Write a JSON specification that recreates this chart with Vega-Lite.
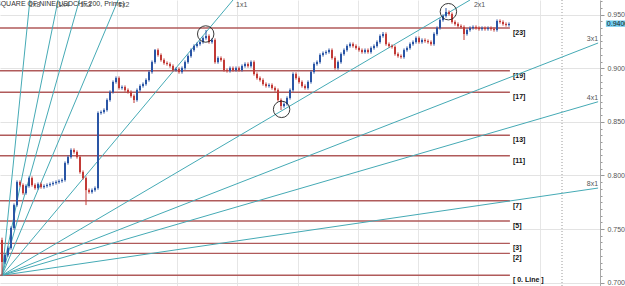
{
"$schema": "https://vega.github.io/schema/vega-lite/v6.json",
"width": 600, "height": 286,
"autosize": {"type": "none"},
"padding": {"left": 0, "top": 0, "right": 25, "bottom": 0},
"background": "white",
"config": {"view": {"stroke": null}, "font": "Liberation Sans"},
"datasets": {
"bars": [
{"n":0,"o":0.7398,"h":0.742,"l":0.7062,"c":0.7193},
{"n":1,"o":0.7193,"h":0.7273,"l":0.7178,"c":0.7258},
{"n":2,"o":0.7258,"h":0.7338,"l":0.7243,"c":0.7323},
{"n":3,"o":0.7323,"h":0.7525,"l":0.7308,"c":0.751},
{"n":4,"o":0.751,"h":0.7739,"l":0.7495,"c":0.7724},
{"n":5,"o":0.7724,"h":0.7954,"l":0.7709,"c":0.7939},
{"n":6,"o":0.7939,"h":0.7954,"l":0.7896,"c":0.7911},
{"n":7,"o":0.7911,"h":0.7926,"l":0.7821,"c":0.7836},
{"n":8,"o":0.7836,"h":0.7917,"l":0.7821,"c":0.7902},
{"n":9,"o":0.7902,"h":0.7991,"l":0.7887,"c":0.7976},
{"n":10,"o":0.7976,"h":0.7991,"l":0.7896,"c":0.7911},
{"n":11,"o":0.7911,"h":0.7926,"l":0.7868,"c":0.7883},
{"n":12,"o":0.7883,"h":0.7935,"l":0.7868,"c":0.792},
{"n":13,"o":0.792,"h":0.7935,"l":0.7877,"c":0.7892},
{"n":14,"o":0.7892,"h":0.7917,"l":0.7877,"c":0.7902},
{"n":15,"o":0.7902,"h":0.7926,"l":0.7887,"c":0.7911},
{"n":16,"o":0.7911,"h":0.7935,"l":0.7896,"c":0.792},
{"n":17,"o":0.792,"h":0.7945,"l":0.7905,"c":0.793},
{"n":18,"o":0.793,"h":0.7954,"l":0.7915,"c":0.7939},
{"n":19,"o":0.7939,"h":0.7963,"l":0.7924,"c":0.7948},
{"n":20,"o":0.7948,"h":0.7973,"l":0.7933,"c":0.7958},
{"n":21,"o":0.7958,"h":0.8131,"l":0.7943,"c":0.8116},
{"n":22,"o":0.8116,"h":0.8187,"l":0.8101,"c":0.8172},
{"n":23,"o":0.8172,"h":0.8253,"l":0.8157,"c":0.8238},
{"n":24,"o":0.8238,"h":0.8253,"l":0.8204,"c":0.8219},
{"n":25,"o":0.8219,"h":0.8234,"l":0.8157,"c":0.8172},
{"n":26,"o":0.8172,"h":0.8187,"l":0.8017,"c":0.8032},
{"n":27,"o":0.8032,"h":0.8047,"l":0.7961,"c":0.7976},
{"n":28,"o":0.7976,"h":0.7991,"l":0.7724,"c":0.7864},
{"n":29,"o":0.7864,"h":0.7879,"l":0.7831,"c":0.7846},
{"n":30,"o":0.7846,"h":0.7879,"l":0.7831,"c":0.7864},
{"n":31,"o":0.7864,"h":0.7898,"l":0.7849,"c":0.7883},
{"n":32,"o":0.7883,"h":0.8598,"l":0.7868,"c":0.8583},
{"n":33,"o":0.8583,"h":0.8607,"l":0.8568,"c":0.8592},
{"n":34,"o":0.8592,"h":0.8626,"l":0.8577,"c":0.8611},
{"n":35,"o":0.8611,"h":0.8719,"l":0.8596,"c":0.8704},
{"n":36,"o":0.8704,"h":0.8794,"l":0.8689,"c":0.8779},
{"n":37,"o":0.8779,"h":0.8887,"l":0.8764,"c":0.8872},
{"n":38,"o":0.8872,"h":0.8924,"l":0.8857,"c":0.8909},
{"n":39,"o":0.8909,"h":0.8924,"l":0.8801,"c":0.8816},
{"n":40,"o":0.8816,"h":0.884,"l":0.8801,"c":0.8825},
{"n":41,"o":0.8825,"h":0.884,"l":0.8782,"c":0.8797},
{"n":42,"o":0.8797,"h":0.8812,"l":0.8764,"c":0.8779},
{"n":43,"o":0.8779,"h":0.8794,"l":0.8726,"c":0.8741},
{"n":44,"o":0.8741,"h":0.8756,"l":0.8676,"c":0.8704},
{"n":45,"o":0.8704,"h":0.8812,"l":0.8689,"c":0.8797},
{"n":46,"o":0.8797,"h":0.885,"l":0.8782,"c":0.8835},
{"n":47,"o":0.8835,"h":0.8868,"l":0.882,"c":0.8853},
{"n":48,"o":0.8853,"h":0.8906,"l":0.8838,"c":0.8891},
{"n":49,"o":0.8891,"h":0.898,"l":0.8876,"c":0.8965},
{"n":50,"o":0.8965,"h":0.9073,"l":0.895,"c":0.9058},
{"n":51,"o":0.9058,"h":0.918,"l":0.9043,"c":0.917},
{"n":52,"o":0.917,"h":0.9185,"l":0.9109,"c":0.9124},
{"n":53,"o":0.9124,"h":0.9139,"l":0.9062,"c":0.9077},
{"n":54,"o":0.9077,"h":0.9092,"l":0.9034,"c":0.9049},
{"n":55,"o":0.9049,"h":0.9064,"l":0.9025,"c":0.904},
{"n":56,"o":0.904,"h":0.9055,"l":0.9006,"c":0.9021},
{"n":57,"o":0.9021,"h":0.9036,"l":0.8969,"c":0.8984},
{"n":58,"o":0.8984,"h":0.9008,"l":0.8969,"c":0.8993},
{"n":59,"o":0.8993,"h":0.9008,"l":0.895,"c":0.8965},
{"n":60,"o":0.8965,"h":0.9017,"l":0.895,"c":0.9002},
{"n":61,"o":0.9002,"h":0.9073,"l":0.8987,"c":0.9058},
{"n":62,"o":0.9058,"h":0.9129,"l":0.9043,"c":0.9114},
{"n":63,"o":0.9114,"h":0.9185,"l":0.9099,"c":0.917},
{"n":64,"o":0.917,"h":0.9223,"l":0.9155,"c":0.9208},
{"n":65,"o":0.9208,"h":0.9241,"l":0.9193,"c":0.9226},
{"n":66,"o":0.9226,"h":0.926,"l":0.9211,"c":0.9245},
{"n":67,"o":0.9245,"h":0.9297,"l":0.923,"c":0.9282},
{"n":68,"o":0.9282,"h":0.9357,"l":0.9267,"c":0.9301},
{"n":69,"o":0.9301,"h":0.9316,"l":0.923,"c":0.9245},
{"n":70,"o":0.9245,"h":0.9279,"l":0.923,"c":0.9264},
{"n":71,"o":0.9264,"h":0.9279,"l":0.9043,"c":0.9058},
{"n":72,"o":0.9058,"h":0.9111,"l":0.9043,"c":0.9096},
{"n":73,"o":0.9096,"h":0.9111,"l":0.9062,"c":0.9077},
{"n":74,"o":0.9077,"h":0.9092,"l":0.8969,"c":0.8984},
{"n":75,"o":0.8984,"h":0.8999,"l":0.896,"c":0.8975},
{"n":76,"o":0.8975,"h":0.9017,"l":0.896,"c":0.9002},
{"n":77,"o":0.9002,"h":0.9017,"l":0.8969,"c":0.8984},
{"n":78,"o":0.8984,"h":0.9017,"l":0.8969,"c":0.9002},
{"n":79,"o":0.9002,"h":0.9017,"l":0.8969,"c":0.8984},
{"n":80,"o":0.8984,"h":0.9036,"l":0.8969,"c":0.9021},
{"n":81,"o":0.9021,"h":0.9055,"l":0.9006,"c":0.904},
{"n":82,"o":0.904,"h":0.9055,"l":0.9006,"c":0.9021},
{"n":83,"o":0.9021,"h":0.9073,"l":0.9006,"c":0.9058},
{"n":84,"o":0.9058,"h":0.9073,"l":0.8932,"c":0.8947},
{"n":85,"o":0.8947,"h":0.8962,"l":0.8894,"c":0.8909},
{"n":86,"o":0.8909,"h":0.8924,"l":0.8876,"c":0.8891},
{"n":87,"o":0.8891,"h":0.8906,"l":0.8838,"c":0.8853},
{"n":88,"o":0.8853,"h":0.8868,"l":0.882,"c":0.8835},
{"n":89,"o":0.8835,"h":0.8859,"l":0.882,"c":0.8844},
{"n":90,"o":0.8844,"h":0.8859,"l":0.8801,"c":0.8816},
{"n":91,"o":0.8816,"h":0.8831,"l":0.8782,"c":0.8797},
{"n":92,"o":0.8797,"h":0.8812,"l":0.8689,"c":0.8704},
{"n":93,"o":0.8704,"h":0.8719,"l":0.8611,"c":0.8648},
{"n":94,"o":0.8648,"h":0.8682,"l":0.8633,"c":0.8667},
{"n":95,"o":0.8667,"h":0.8738,"l":0.8652,"c":0.8723},
{"n":96,"o":0.8723,"h":0.8812,"l":0.8708,"c":0.8797},
{"n":97,"o":0.8797,"h":0.8962,"l":0.8782,"c":0.8947},
{"n":98,"o":0.8947,"h":0.8962,"l":0.8894,"c":0.8909},
{"n":99,"o":0.8909,"h":0.8924,"l":0.8857,"c":0.8872},
{"n":100,"o":0.8872,"h":0.8887,"l":0.882,"c":0.8835},
{"n":101,"o":0.8835,"h":0.885,"l":0.8801,"c":0.8816},
{"n":102,"o":0.8816,"h":0.8887,"l":0.8801,"c":0.8872},
{"n":103,"o":0.8872,"h":0.898,"l":0.8857,"c":0.8965},
{"n":104,"o":0.8965,"h":0.9055,"l":0.895,"c":0.904},
{"n":105,"o":0.904,"h":0.9073,"l":0.9025,"c":0.9058},
{"n":106,"o":0.9058,"h":0.9139,"l":0.9043,"c":0.9124},
{"n":107,"o":0.9124,"h":0.9157,"l":0.9109,"c":0.9142},
{"n":108,"o":0.9142,"h":0.9167,"l":0.9127,"c":0.9152},
{"n":109,"o":0.9152,"h":0.9185,"l":0.9137,"c":0.917},
{"n":110,"o":0.917,"h":0.9185,"l":0.9081,"c":0.9096},
{"n":111,"o":0.9096,"h":0.9111,"l":0.8987,"c":0.9002},
{"n":112,"o":0.9002,"h":0.9073,"l":0.8987,"c":0.9058},
{"n":113,"o":0.9058,"h":0.9148,"l":0.9043,"c":0.9133},
{"n":114,"o":0.9133,"h":0.9185,"l":0.9118,"c":0.917},
{"n":115,"o":0.917,"h":0.9223,"l":0.9155,"c":0.9208},
{"n":116,"o":0.9208,"h":0.9241,"l":0.9193,"c":0.9226},
{"n":117,"o":0.9226,"h":0.9241,"l":0.9193,"c":0.9208},
{"n":118,"o":0.9208,"h":0.9223,"l":0.9174,"c":0.9189},
{"n":119,"o":0.9189,"h":0.9204,"l":0.9155,"c":0.917},
{"n":120,"o":0.917,"h":0.9185,"l":0.9137,"c":0.9152},
{"n":121,"o":0.9152,"h":0.9185,"l":0.9137,"c":0.917},
{"n":122,"o":0.917,"h":0.9185,"l":0.9137,"c":0.9152},
{"n":123,"o":0.9152,"h":0.9204,"l":0.9137,"c":0.9189},
{"n":124,"o":0.9189,"h":0.9223,"l":0.9174,"c":0.9208},
{"n":125,"o":0.9208,"h":0.926,"l":0.9193,"c":0.9245},
{"n":126,"o":0.9245,"h":0.9316,"l":0.923,"c":0.9301},
{"n":127,"o":0.9301,"h":0.9338,"l":0.9286,"c":0.932},
{"n":128,"o":0.932,"h":0.9335,"l":0.9211,"c":0.9226},
{"n":129,"o":0.9226,"h":0.9241,"l":0.9193,"c":0.9208},
{"n":130,"o":0.9208,"h":0.9223,"l":0.9184,"c":0.9199},
{"n":131,"o":0.9199,"h":0.9214,"l":0.9118,"c":0.9133},
{"n":132,"o":0.9133,"h":0.9148,"l":0.9099,"c":0.9114},
{"n":133,"o":0.9114,"h":0.9129,"l":0.909,"c":0.9105},
{"n":134,"o":0.9105,"h":0.9185,"l":0.909,"c":0.917},
{"n":135,"o":0.917,"h":0.9204,"l":0.9155,"c":0.9189},
{"n":136,"o":0.9189,"h":0.9241,"l":0.9174,"c":0.9226},
{"n":137,"o":0.9226,"h":0.926,"l":0.9211,"c":0.9245},
{"n":138,"o":0.9245,"h":0.9297,"l":0.923,"c":0.9282},
{"n":139,"o":0.9282,"h":0.9297,"l":0.923,"c":0.9245},
{"n":140,"o":0.9245,"h":0.9279,"l":0.923,"c":0.9264},
{"n":141,"o":0.9264,"h":0.9279,"l":0.9239,"c":0.9254},
{"n":142,"o":0.9254,"h":0.9269,"l":0.923,"c":0.9245},
{"n":143,"o":0.9245,"h":0.926,"l":0.9211,"c":0.9226},
{"n":144,"o":0.9226,"h":0.9335,"l":0.9211,"c":0.932},
{"n":145,"o":0.932,"h":0.9391,"l":0.9305,"c":0.9376},
{"n":146,"o":0.9376,"h":0.9465,"l":0.9361,"c":0.945},
{"n":147,"o":0.945,"h":0.9503,"l":0.9435,"c":0.9488},
{"n":148,"o":0.9488,"h":0.9562,"l":0.9473,"c":0.9525},
{"n":149,"o":0.9525,"h":0.954,"l":0.9491,"c":0.9506},
{"n":150,"o":0.9506,"h":0.9521,"l":0.9417,"c":0.9432},
{"n":151,"o":0.9432,"h":0.9447,"l":0.9398,"c":0.9413},
{"n":152,"o":0.9413,"h":0.9428,"l":0.9379,"c":0.9394},
{"n":153,"o":0.9394,"h":0.9409,"l":0.937,"c":0.9385},
{"n":154,"o":0.9385,"h":0.94,"l":0.9264,"c":0.932},
{"n":155,"o":0.932,"h":0.9372,"l":0.9305,"c":0.9357},
{"n":156,"o":0.9357,"h":0.9391,"l":0.9342,"c":0.9376},
{"n":157,"o":0.9376,"h":0.94,"l":0.9361,"c":0.9385},
{"n":158,"o":0.9385,"h":0.94,"l":0.9361,"c":0.9376},
{"n":159,"o":0.9376,"h":0.9391,"l":0.9351,"c":0.9366},
{"n":160,"o":0.9366,"h":0.9391,"l":0.9351,"c":0.9376},
{"n":161,"o":0.9376,"h":0.9391,"l":0.9351,"c":0.9366},
{"n":162,"o":0.9366,"h":0.9391,"l":0.9351,"c":0.9376},
{"n":163,"o":0.9376,"h":0.9391,"l":0.9351,"c":0.9366},
{"n":164,"o":0.9366,"h":0.9381,"l":0.9342,"c":0.9357},
{"n":165,"o":0.9357,"h":0.9456,"l":0.9342,"c":0.9441},
{"n":166,"o":0.9441,"h":0.9456,"l":0.9417,"c":0.9432},
{"n":167,"o":0.9432,"h":0.9447,"l":0.9398,"c":0.9413},
{"n":168,"o":0.9413,"h":0.9428,"l":0.9389,"c":0.9404},
{"n":169,"o":0.9404,"h":0.9428,"l":0.9389,"c":0.9413}
],
"levels": [
{"v":0.9376,"label":"[23]"},
{"v":0.8977,"label":"[19]"},
{"v":0.8776,"label":"[17]"},
{"v":0.8375,"label":"[13]"},
{"v":0.8184,"label":"[11]"},
{"v":0.7765,"label":"[7]"},
{"v":0.7575,"label":"[5]"},
{"v":0.7367,"label":"[3]"},
{"v":0.7274,"label":"[2]"},
{"v":0.7069,"label":"[ 0. Line ]"}
],
"fans": [
{"fan":"1x8","n":0,"v":0.7069},{"fan":"1x8","n":9.3,"v":0.9637},
{"fan":"1x4","n":0,"v":0.7069},{"fan":"1x4","n":18.7,"v":0.9637},
{"fan":"1x3","n":0,"v":0.7069},{"fan":"1x3","n":25.8,"v":0.9637},
{"fan":"1x2","n":0,"v":0.7069},{"fan":"1x2","n":38.7,"v":0.9637},
{"fan":"1x1","n":0,"v":0.7069},{"fan":"1x1","n":77,"v":0.9637},
{"fan":"2x1","n":0,"v":0.7069},{"fan":"2x1","n":156,"v":0.9637},
{"fan":"3x1","n":0,"v":0.7069},{"fan":"3x1","n":198.7,"v":0.9236},
{"fan":"4x1","n":0,"v":0.7069},{"fan":"4x1","n":198.7,"v":0.8688},
{"fan":"8x1","n":0,"v":0.7069},{"fan":"8x1","n":198.7,"v":0.7883}
],
"fanTop": [
{"t":"1x8","n":9,"v":0.9595},
{"t":"1x4","n":18.7,"v":0.9595},
{"t":"1x3","n":26,"v":0.9595},
{"t":"1x2","n":38.7,"v":0.9595},
{"t":"1x1","n":78,"v":0.9595},
{"t":"2x1","n":157.3,"v":0.9595}
],
"fanRight": [
{"t":"3x1","n":198.7,"v":0.9236},
{"t":"4x1","n":198.7,"v":0.8688},
{"t":"8x1","n":198.7,"v":0.7883}
],
"circles": [
{"n":67.9,"v":0.932},
{"n":93.2,"v":0.8617},
{"n":148.8,"v":0.9528}
],
"title": [{"t":"SQUARE OF NINE(USDCHF,200, Prime)","n":-2,"v":0.96}],
"cur": [{"t":"0.9400","v":0.9416,"top":0.9446,"bot":0.9387}]
},
"resolve": {"axis": {"x": "independent", "y": "independent"}},
"layer": [
{
"data": {"name": "bars"},
"mark": {"type": "rule", "strokeWidth": 1, "opacity": 0},
"encoding": {
"x": {"field": "n", "type": "quantitative", "scale": {"domain": [-0.667, 199.333], "nice": false, "zero": false},
"axis": {"values": [18.33, 38.33, 58.33, 78.33, 98.67, 118.67, 138.67, 158.67, 179.33], "grid": true, "gridColor": "#e6e6e6", "gridWidth": 1, "labels": false, "ticks": false, "domain": false, "title": null}},
"y": {"field": "l", "type": "quantitative", "scale": {"domain": [0.69692, 0.96371], "nice": false, "zero": false},
"axis": {"orient": "right", "title": null,
"values": [0.7,0.70625,0.7125,0.71875,0.725,0.73125,0.7375,0.74375,0.75,0.75625,0.7625,0.76875,0.775,0.78125,0.7875,0.79375,0.8,0.80625,0.8125,0.81875,0.825,0.83125,0.8375,0.84375,0.85,0.85625,0.8625,0.86875,0.875,0.88125,0.8875,0.89375,0.9,0.90625,0.9125,0.91875,0.925,0.93125,0.9375,0.94375,0.95,0.95625,0.9625],
"labelExpr": "abs(datum.value*20 - round(datum.value*20)) < 0.01 ? format(datum.value, '.3f') : ''",
"labelFont": "Liberation Sans", "labelFontSize": 7, "labelColor": "#555", "labelPadding": 3, "labelFlush": false, "labelOverlap": false, "labelBound": false,
"domainColor": "#a8a8a8", "tickColor": "#999",
"tickSize": {"condition": {"test": "abs(datum.value*20 - round(datum.value*20)) < 0.01", "value": 4}, "value": 2},
"grid": true,
"gridColor": {"condition": {"test": "abs(datum.value*20 - round(datum.value*20)) < 0.01", "value": "#e3e3e3"}, "value": "transparent"}}},
"y2": {"field": "h"}
}
},
{
"data": {"name": "levels"},
"mark": {"type": "rule", "color": "#b05a5a", "strokeWidth": 1.4},
"encoding": {
"x": {"datum": -1, "type": "quantitative", "axis": null},
"x2": {"datum": 169.3},
"y": {"field": "v", "type": "quantitative", "axis": null}
}
},
{
"data": {"name": "levels"},
"mark": {"type": "rule", "color": "#cccccc", "strokeDash": [1, 2], "strokeWidth": 1},
"encoding": {"x": {"datum": 186.67, "type": "quantitative", "axis": null}}
},
{
"data": {"name": "levels"},
"mark": {"type": "text", "align": "left", "baseline": "top", "dy": 1, "fontSize": 7, "fontWeight": "bold", "color": "#111", "font": "Liberation Sans"},
"encoding": {
"x": {"datum": 170.3, "type": "quantitative", "axis": null},
"y": {"field": "v", "type": "quantitative", "axis": null},
"text": {"field": "label"}
}
},
{
"data": {"name": "fans"},
"mark": {"type": "line", "color": "#45aab5", "strokeWidth": 1, "clip": true},
"encoding": {
"x": {"field": "n", "type": "quantitative", "axis": null},
"y": {"field": "v", "type": "quantitative", "axis": null},
"detail": {"field": "fan"}
}
},
{
"data": {"name": "bars"},
"mark": {"type": "rule", "strokeWidth": 1},
"encoding": {
"x": {"field": "n", "type": "quantitative", "axis": null},
"y": {"field": "l", "type": "quantitative", "axis": null},
"y2": {"field": "h"},
"color": {"condition": {"test": "datum.c >= datum.o", "value": "#2a55a5"}, "value": "#c23a36"}
}
},
{
"data": {"name": "bars"},
"mark": {"type": "rule", "strokeWidth": 2},
"encoding": {
"x": {"field": "n", "type": "quantitative", "axis": null},
"y": {"field": "o", "type": "quantitative", "axis": null},
"y2": {"field": "c"},
"color": {"condition": {"test": "datum.c >= datum.o", "value": "#2a55a5"}, "value": "#c23a36"}
}
},
{
"data": {"name": "circles"},
"mark": {"type": "point", "shape": "circle", "size": 270, "filled": false, "stroke": "#222", "strokeWidth": 0.9, "opacity": 1},
"encoding": {
"x": {"field": "n", "type": "quantitative", "axis": null},
"y": {"field": "v", "type": "quantitative", "axis": null}
}
},
{
"data": {"name": "fanTop"},
"mark": {"type": "text", "align": "left", "baseline": "middle", "fontSize": 7, "color": "#555", "font": "Liberation Sans"},
"encoding": {
"x": {"field": "n", "type": "quantitative", "axis": null},
"y": {"field": "v", "type": "quantitative", "axis": null},
"text": {"field": "t"}
}
},
{
"data": {"name": "fanRight"},
"mark": {"type": "text", "align": "right", "baseline": "bottom", "dy": -1, "fontSize": 7, "color": "#555", "font": "Liberation Sans"},
"encoding": {
"x": {"field": "n", "type": "quantitative", "axis": null},
"y": {"field": "v", "type": "quantitative", "axis": null},
"text": {"field": "t"}
}
},
{
"data": {"name": "title"},
"mark": {"type": "text", "align": "left", "baseline": "middle", "fontSize": 7, "color": "#333", "font": "Liberation Sans"},
"encoding": {
"x": {"field": "n", "type": "quantitative", "axis": null},
"y": {"field": "v", "type": "quantitative", "axis": null},
"text": {"field": "t"}
}
},
{
"data": {"name": "cur"},
"mark": {"type": "rect", "color": "#6fcdf0", "opacity": 1},
"encoding": {
"x": {"datum": 201.3, "type": "quantitative", "axis": null},
"x2": {"datum": 210},
"y": {"field": "top", "type": "quantitative", "axis": null},
"y2": {"field": "bot"}
}
},
{
"data": {"name": "cur"},
"mark": {"type": "text", "align": "left", "baseline": "middle", "fontSize": 7, "color": "#222", "font": "Liberation Sans"},
"encoding": {
"x": {"datum": 201.6, "type": "quantitative", "axis": null},
"y": {"field": "v", "type": "quantitative", "axis": null},
"text": {"field": "t"}
}
}
]
}
